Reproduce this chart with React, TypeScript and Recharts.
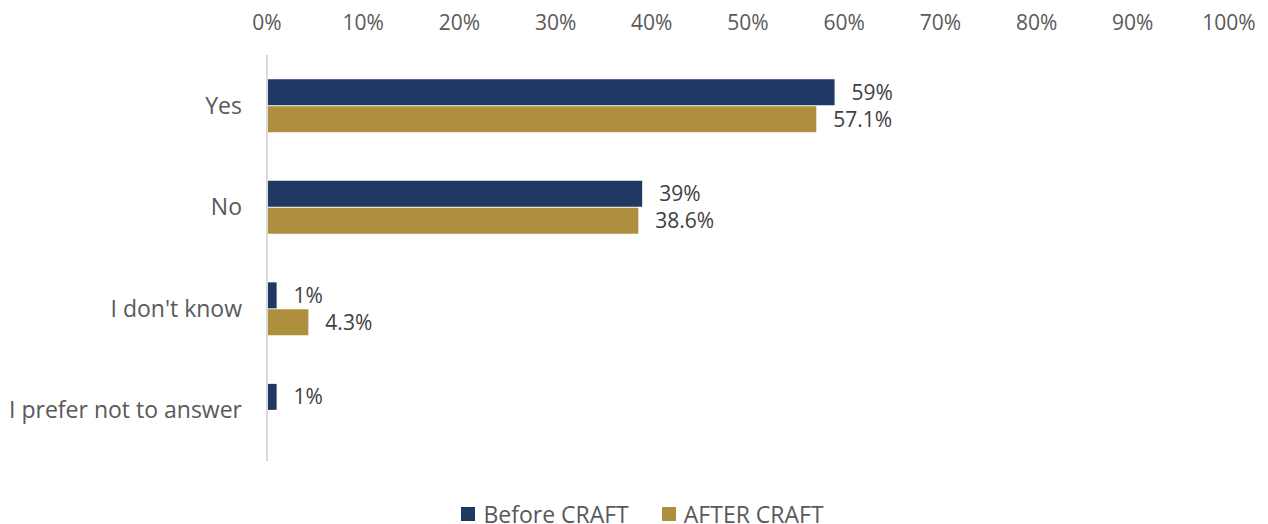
import React from 'react';
import { BarChart, Bar, XAxis, YAxis, Legend, LabelList } from 'recharts';

const categories = ['Yes', 'No', "I don't know", 'I prefer not to answer'];
const beforeValues: (number | null)[] = [59, 39, 1, 1];
const afterValues: (number | null)[] = [57.1, 38.6, 4.3, null];
const xTicks = [0, 10, 20, 30, 40, 50, 60, 70, 80, 90, 100];
const seriesNames = ['Before CRAFT', 'AFTER CRAFT'];

const data = categories.map((c, i) => ({ name: c, before: beforeValues[i], after: afterValues[i] }));

const FONT = '"Open Sans", sans-serif';
const NAVY = '#203864';
const GOLD = '#AD8F3E';
const colors = [NAVY, GOLD];

const fmt = (v: any) => (v === null || v === undefined ? '' : `${v}%`);

const renderLegend = () => (
  <div style={{ height: 63, display: 'flex', justifyContent: 'center', alignItems: 'flex-end', paddingLeft: 56, boxSizing: 'border-box', fontFamily: FONT, fontSize: 23, color: '#595959' }}>
    {seriesNames.map((n, i) => (
      <div key={n} style={{ display: 'flex', alignItems: 'center', marginLeft: i ? 33 : 0, height: 26, marginBottom: -3 }}>
        <span style={{ display: 'inline-block', width: 14, height: 14, background: colors[i], marginRight: 8 }} />
        <span style={{ lineHeight: '26px' }}>{n}</span>
      </div>
    ))}
  </div>
);

export default function App() {
  return (
    <div style={{ position: 'absolute', left: 0, top: 0, width: 1268, height: 524, background: '#fff' }}>
      <BarChart
        width={1268}
        height={524}
        data={data}
        layout="vertical"
        margin={{ top: 15, right: 39, bottom: 0, left: 0 }}
        barCategoryGap="24%"
        barGap={1}
      >
        <XAxis
          type="number"
          orientation="top"
          domain={[0, 100]}
          ticks={xTicks}
          tickFormatter={(v: number) => `${v}%`}
          axisLine={false}
          tickLine={false}
          tickSize={0}
          tickMargin={25}
          height={40}
          tick={{ fill: '#595959', fontSize: 21, fontFamily: FONT }}
          interval={0}
        />
        <YAxis
          type="category"
          dataKey="name"
          width={267}
          axisLine={{ stroke: '#D9D9D9', strokeWidth: 2 }}
          tickLine={false}
          tickSize={0}
          tickMargin={25}
          tick={{ fill: '#595959', fontSize: 23, fontFamily: FONT }}
          interval={0}
        />
        <Legend verticalAlign="bottom" align="center" height={63} content={renderLegend} />
        <Bar dataKey="before" name={seriesNames[0]} fill={NAVY} isAnimationActive={false}>
          <LabelList dataKey="before" position="right" offset={17} formatter={fmt}
            style={{ fill: '#404040', fontSize: 21, fontFamily: FONT }} />
        </Bar>
        <Bar dataKey="after" name={seriesNames[1]} fill={GOLD} isAnimationActive={false}>
          <LabelList dataKey="after" position="right" offset={17} formatter={fmt}
            style={{ fill: '#404040', fontSize: 21, fontFamily: FONT }} />
        </Bar>
      </BarChart>
    </div>
  );
}
